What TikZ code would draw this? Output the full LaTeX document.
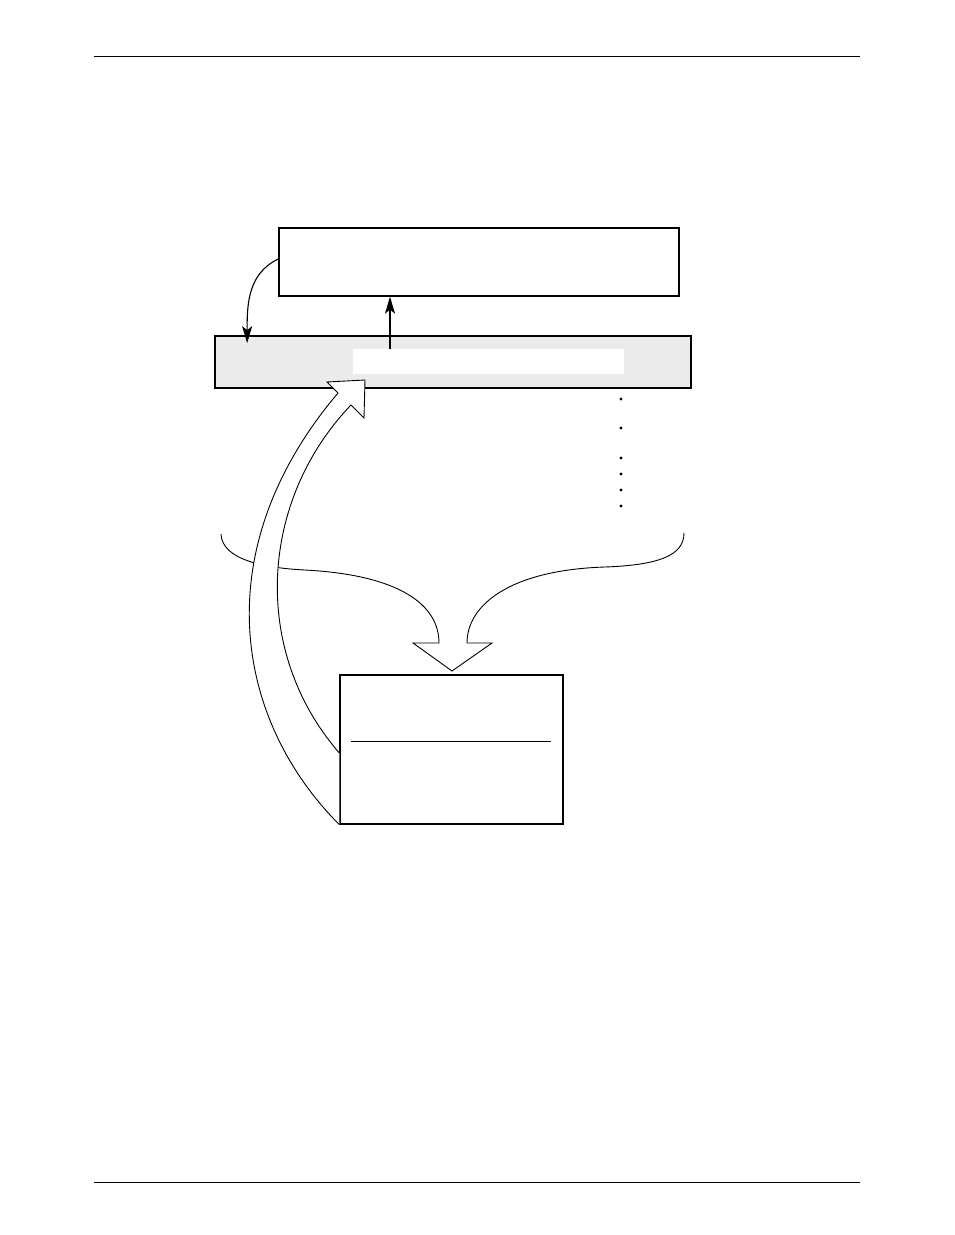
\documentclass[tikz,border=0pt]{standalone}
\usetikzlibrary{arrows.meta}
\begin{document}
\begin{tikzpicture}[x=1pt, y=-1pt]
            \definecolor{bargray}{HTML}{EBEBEB}
            \tikzstyle{box} = [draw=black, line width=1.3pt, inner sep=0pt]
            \tikzstyle{arr} = [line width=1.1pt, -{Stealth[length=17pt, width=10pt, inset=4pt]}]
            \tikzstyle{outline} = [draw=black, line width=0.9pt, line join=miter]
            \useasboundingbox (0,0) rectangle (954,1235);

            % page rules
            \coordinate (h1) at (94,56);
            \coordinate (h2) at (860,56);
            \coordinate (f1) at (94,1182);
            \coordinate (f2) at (860,1182);
            \draw[line width=0.8pt] (h1)--(h2);
            \draw[line width=0.8pt] (f1)--(f2);

            \node[box, minimum width=400pt, minimum height=68pt] (top) at (479,262) {};
            \node[box, line width=1.7pt, fill=bargray, minimum width=476pt, minimum height=52pt] (bar) at (453,362) {};
            \node[fill=white, inner sep=0pt, minimum width=271pt, minimum height=25pt] (slot) at (488.5,361.5) {};
            \node[box, minimum width=223pt, minimum height=149pt] (tab) at (451.5,749.5) {};
            \draw[line width=1pt] ([xshift=12pt,yshift=8pt]tab.west) -- ([xshift=-13pt,yshift=8pt]tab.east);

            \draw[arr] ([xshift=-98.5pt]slot.north) -- ([xshift=-98.5pt]slot.north |- top.south);
            \draw[arr] ([yshift=3pt]top.west) to [out=205,in=90] ([shift={(33pt,-8pt)}]bar.north west);

            % vertical dots
            \foreach \y in {399,428,458,474,490,506}
                \fill (621,\y) circle (1.6pt);

            % braces merging into the hollow arrow
            \draw[outline] (221,534) .. controls (222,560) and (265,568) .. (305,570)
                .. controls (400,575) and (439,605) .. (439,643)
                -- (413,643) -- (452,671) -- (492,643) -- (467,643)
                .. controls (467,605) and (510,570) .. (605,567)
                .. controls (660,565) and (684,555) .. (684,533);

            % hollow curved arrow back to the bar
            \draw[outline, fill=white] (tab.south west)
                .. controls (235,720) and (205,550) .. (338,393)
                -- (327,382) -- (365,380) -- (364,418) -- (351,405)
                .. controls (260,500) and (250,650) .. ([yshift=-3.5pt]tab.west);
        \end{tikzpicture}
\end{document}
